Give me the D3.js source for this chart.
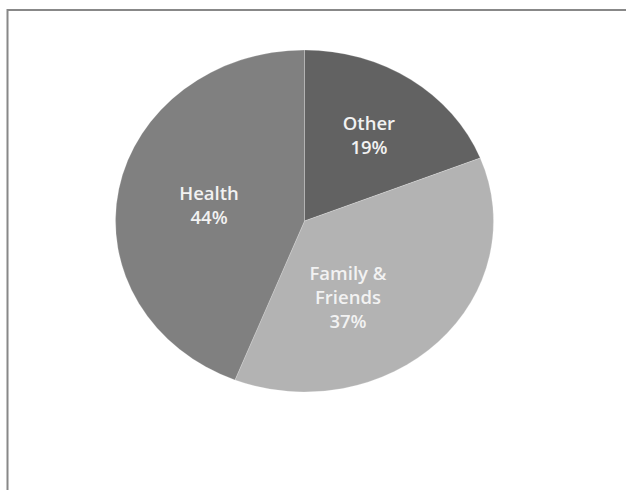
<!DOCTYPE html>
<html><head><meta charset="utf-8">
<script src="https://cdn.jsdelivr.net/npm/d3@7"></script>
<style>html,body{margin:0;padding:0;background:#fff;}svg{display:block;}</style>
</head><body>
<svg id="c" width="626" height="490"></svg>
<script>
const categories = ["Other", "Family & Friends", "Health"];
const values = [19, 37, 44];
const labelLines = [["Other", "19%"], ["Family &", "Friends", "37%"], ["Health", "44%"]];
const colors = ["#626262", "#b3b3b3", "#808080"];

// layout: label anchors as fractions of the ellipse radii (Excel "best fit")
const labelAnchor = [[0.341, -0.463], [0.230, 0.485], [-0.505, -0.054]];

const svg = d3.select("#c");
// frame
svg.append("line").attr("x1", 7.5).attr("x2", 626).attr("y1", 10).attr("y2", 10).attr("stroke", "#888").attr("stroke-width", 2);
svg.append("line").attr("x1", 7.5).attr("x2", 7.5).attr("y1", 9).attr("y2", 490).attr("stroke", "#888").attr("stroke-width", 2);

const cx = 304.5, cy = 221, rx = 189, ry = 171;
const pie = d3.pie().sort(null).value(d => d)(values);
const arc = d3.arc().innerRadius(0).outerRadius(ry);
const g = svg.append("g").attr("transform", `translate(${cx},${cy}) scale(${rx / ry},1)`);
g.selectAll("path").data(pie).join("path")
  .attr("d", arc).attr("fill", (d, i) => colors[i])
  .attr("stroke", "rgba(255,255,255,0.25)").attr("stroke-width", 0.8);

const lh = 24;
pie.forEach((d, i) => {
  const lines = labelLines[i];
  const px = cx + labelAnchor[i][0] * rx, py = cy + labelAnchor[i][1] * ry;
  const t = svg.append("text").attr("text-anchor", "middle")
    .attr("font-family", "'Open Sans', sans-serif").attr("font-size", 18.5)
    .attr("font-weight", 600)
    .attr("fill", "#f2f2f2");
  lines.forEach((ln, j) => {
    t.append("tspan").attr("x", px).attr("y", py + (j - (lines.length - 1) / 2) * lh).text(ln);
  });
});
</script>
</body></html>
